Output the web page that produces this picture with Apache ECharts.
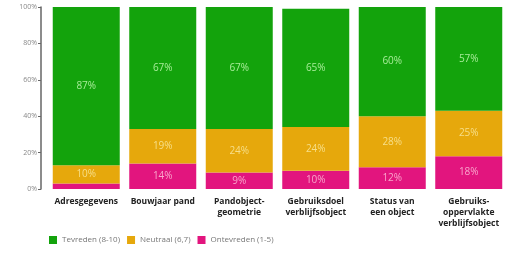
<!DOCTYPE html>
<html>
<head>
<meta charset="utf-8">
<script src="https://cdn.jsdelivr.net/npm/echarts@6/dist/echarts.min.js"></script>
<style>
  html, body { margin: 0; padding: 0; background: #fff; }
  #chart { width: 507px; height: 254px; }
</style>
</head>
<body>
<div id="chart"></div>
<script>
var categories = ['Adresgegevens', 'Bouwjaar pand', 'Pandobject-\ngeometrie', 'Gebruiksdoel\nverblijfsobject', 'Status van\neen object', 'Gebruiks-\noppervlakte\nverblijfsobject'];
var ontevreden = [3, 14, 9, 10, 12, 18];
var neutraal = [10, 19, 24, 24, 28, 25];
var tevreden = [87, 67, 67, 65, 60, 57];
var seriesNames = ['Tevreden (8-10)', 'Neutraal (6,7)', 'Ontevreden (1-5)'];

(function () {
    var chartDom = document.getElementById('chart');
    var chart = echarts.init(chartDom);

    var labelFor = function (color, minShow) {
        return {
            show: true,
            position: 'inside',
            color: color,
            fontSize: 10,
            fontFamily: 'Open Sans',
            formatter: function (p) {
                return p.value >= minShow ? p.value + '%' : '';
            }
        };
    };

    chart.setOption({
        animation: false,
        grid: { left: 48, top: 7, width: 461, bottom: 65 },
        legend: {
            left: 44,
            bottom: 5,
            itemWidth: 8,
            itemHeight: 8,
            itemGap: 7,
            icon: 'rect',
            textStyle: { color: '#777', fontSize: 8, fontFamily: 'Open Sans' },
            data: seriesNames
        },
        xAxis: {
            type: 'category',
            data: categories,
            axisLine: { show: false },
            axisTick: { show: false },
            axisLabel: {
                interval: 0,
                margin: 7,
                color: '#222',
                fontSize: 8.5,
                fontWeight: 'bold',
                lineHeight: 11,
                fontFamily: 'Open Sans'
            }
        },
        yAxis: {
            type: 'value',
            min: 0,
            max: 100,
            interval: 20,
            offset: 7,
            splitLine: { show: false },
            axisLine: { show: true, lineStyle: { color: '#666', width: 1.5 } },
            axisTick: { show: true, length: 3, lineStyle: { color: '#666' } },
            axisLabel: {
                formatter: '{value}%',
                color: '#888',
                fontSize: 7,
                margin: 4,
                fontFamily: 'Open Sans'
            }
        },
        series: [
            {
                name: seriesNames[2],
                type: 'bar',
                stack: 'total',
                barWidth: 67,
                data: ontevreden,
                itemStyle: { color: '#e2157e' },
                label: labelFor('#f9a6cc', 5)
            },
            {
                name: seriesNames[1],
                type: 'bar',
                stack: 'total',
                data: neutraal,
                itemStyle: { color: '#e6a80c' },
                label: labelFor('#f7df8a', 5)
            },
            {
                name: seriesNames[0],
                type: 'bar',
                stack: 'total',
                data: tevreden,
                itemStyle: { color: '#13a30c' },
                label: labelFor('#a6ec98', 5)
            }
        ]
    });
})();
</script>
</body>
</html>
